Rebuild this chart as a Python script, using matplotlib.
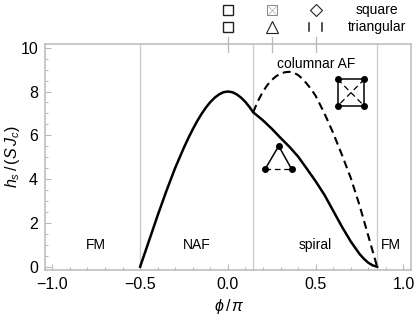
import matplotlib.pyplot as plt
from matplotlib.ticker import MultipleLocator

plt.rcParams["font.family"] = ["Liberation Sans", "DejaVu Sans"]
plt.rcParams["mathtext.fontset"] = "custom"
plt.rcParams["mathtext.it"] = "Liberation Sans:italic"
plt.rcParams["mathtext.rm"] = "Liberation Sans"
plt.rcParams["font.size"] = 10.5

# phase boundaries and read-off curves
boundaries = [-0.5, 0.144, 0.85]
top_ticks = [0.0, 0.25, 0.5]

phi_solid = [-0.5, -0.45, -0.4, -0.35, -0.3, -0.25, -0.225, -0.2, -0.175, -0.15, -0.125, -0.1,
             -0.075, -0.05, -0.025, 0.0, 0.025, 0.05, 0.075, 0.1, 0.125, 0.144, 0.17, 0.2,
             0.25, 0.3, 0.35, 0.4, 0.45, 0.5, 0.55, 0.6, 0.65, 0.7, 0.75, 0.775, 0.8, 0.825, 0.85]
hs_solid = [0.0, 1.17, 2.35, 3.47, 4.52, 5.45, 5.88, 6.28, 6.65, 6.98, 7.27, 7.52,
            7.72, 7.87, 7.97, 8.0, 7.97, 7.87, 7.72, 7.52, 7.27, 7.05, 6.88, 6.68,
            6.3, 5.88, 5.48, 5.03, 4.47, 3.9, 3.28, 2.55,
            1.82, 1.15, 0.58, 0.36, 0.18, 0.06, 0.0]

phi_dash = [0.144, 0.17, 0.2, 0.225, 0.25, 0.275, 0.3, 0.325, 0.35, 0.375, 0.4, 0.425, 0.45,
            0.475, 0.5, 0.55, 0.6, 0.65, 0.7, 0.75, 0.8, 0.85]
hs_dash = [7.05, 7.55, 8.0, 8.3, 8.53, 8.7, 8.82, 8.88, 8.9, 8.86, 8.75, 8.58, 8.35,
           8.1, 7.8, 7.0, 6.1, 5.1, 4.05, 2.8, 1.4, 0.0]

regions = ["FM", "NAF", "spiral", "FM"]
region_x = [96, 197, 315, 391]

GRAY = "#b9b9b9"

fig = plt.figure(figsize=(4.15, 3.17), dpi=100)
ax = fig.add_axes([45 / 415, 1 - 270 / 317, 366 / 415, 226 / 317])
ax.set_xlim(-1.042, 1.043)
ax.set_ylim(-0.15, 10.17)

for b in boundaries:
    ax.axvline(b, color="#cccccc", lw=1, zorder=1)

ax.plot(phi_solid, hs_solid, color="k", lw=1.8, zorder=3, solid_joinstyle="round")
ax.plot(phi_dash, hs_dash, color="k", lw=1.5, dashes=(3.8, 2.3), zorder=3)

ax.xaxis.set_major_locator(MultipleLocator(0.5))
ax.xaxis.set_minor_locator(MultipleLocator(0.1))
ax.yaxis.set_major_locator(MultipleLocator(2))
ax.yaxis.set_minor_locator(MultipleLocator(0.5))
ax.tick_params(which="major", direction="in", length=4, width=0.8, color=GRAY, labelsize=11.5, pad=5)
ax.tick_params(which="minor", direction="in", length=2, width=0.8, color=GRAY)
for s in ax.spines.values():
    s.set_color(GRAY)
    s.set_linewidth(1.1)
ax.set_xticks([-1.0, -0.5, 0.0, 0.5, 1.0])
ax.set_xticklabels(["\u22121.0", "\u22120.5", "0.0", "0.5", "1.0"])
ax.set_yticks([0, 2, 4, 6, 8, 10])

# overlay in pixel coordinates for the annotations
ov = fig.add_axes([0, 0, 1, 1], facecolor="none")
ov.set_xlim(0, 415)
ov.set_ylim(317, 0)
ov.axis("off")

for t in top_ticks:
    px = 228 + t * 175.7
    ov.plot([px, px], [37, 52], color=GRAY, lw=0.9)

for x, name in zip(region_x, regions):
    ov.text(x, 245, name, ha="center", va="center", fontsize=10)
ov.text(316, 64, "columnar AF", ha="center", va="center", fontsize=10)
ov.text(377, 10, "square", ha="center", va="center", fontsize=10)
ov.text(377, 27, "triangular", ha="center", va="center", fontsize=10)
ov.text(229, 307, r"$\phi\,/\,\pi$", ha="center", va="center", fontsize=11.5)
ov.text(13, 157, r"$h_s\,/\,(S\,J_c)$", ha="center", va="center", rotation=90, fontsize=11.5)

# legend symbols on top
ov.plot([228], [10], "s", ms=6.5, mfc="white", mec="#222222", mew=1)
ov.plot([228], [27], "s", ms=6.5, mfc="white", mec="#222222", mew=1)
ov.plot([272], [10], "s", ms=6.5, mfc="white", mec="#888888", mew=0.7)
ov.plot([272], [10], "x", ms=5.5, mec="#aaaaaa", mew=0.5)
ov.plot([272], [27], "^", ms=8.5, mfc="white", mec="#222222", mew=0.8)
ov.plot([315.5], [9.5], "D", ms=6.5, mfc="white", mec="#222222", mew=0.8)
ov.plot([309, 309], [23, 31], color="#222222", lw=1.1)
ov.plot([322, 322], [23, 31], color="#222222", lw=1.1)

# plaquette insets
sx = [337.7, 364.3, 364.3, 337.7, 337.7]
sy = [79.3, 79.3, 106, 106, 79.3]
ov.plot(sx, sy, color="k", lw=1.1, zorder=4)
ov.plot([337.7, 364.3], [79.3, 106], color="k", lw=0.9, dashes=(4.5, 3), zorder=4)
ov.plot([364.3, 337.7], [79.3, 106], color="k", lw=0.9, dashes=(4.5, 3), zorder=4)
ov.plot(sx[:4], sy[:4], "o", color="k", ms=4, zorder=5)

ov.plot([265, 278.7, 291.7], [169.3, 146, 169.3], color="k", lw=1.1, zorder=4)
ov.plot([265, 291.7], [169.3, 169.3], color="k", lw=0.9, dashes=(4.5, 3), zorder=4)
ov.plot([265, 278.7, 291.7], [169.3, 146, 169.3], "o", color="k", ms=4, zorder=5)

fig.savefig("out.png", dpi=100)
